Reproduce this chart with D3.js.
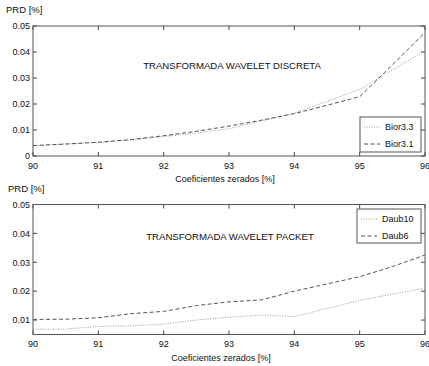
<!DOCTYPE html>
<html>
<head>
<meta charset="utf-8">
<script src="https://cdn.jsdelivr.net/npm/d3@7"></script>
<style>
  body { margin: 0; background: #fff; }
  svg { font-family: "Liberation Sans", Arial, sans-serif; }
</style>
</head>
<body>
<svg id="chart" width="429" height="366"></svg>
<script>
// Data
const coef = [90, 90.5, 91, 91.5, 92, 92.5, 93, 93.5, 94, 94.5, 95, 95.5, 96];
const bior33 = [0.0040, 0.0046, 0.0052, 0.0062, 0.0075, 0.0088, 0.0105, 0.0135, 0.0165, 0.0210, 0.0256, 0.0330, 0.0405];
const bior31 = [0.0040, 0.0046, 0.0053, 0.0063, 0.0078, 0.0095, 0.0115, 0.0138, 0.0163, 0.0195, 0.0228, 0.0350, 0.0475];
const daub10 = [0.0068, 0.0069, 0.0078, 0.0080, 0.0086, 0.0100, 0.0110, 0.0117, 0.0112, 0.0140, 0.0168, 0.0190, 0.0210];
const daub6 = [0.0102, 0.0103, 0.0108, 0.0122, 0.0130, 0.0150, 0.0163, 0.0170, 0.0200, 0.0225, 0.0250, 0.0285, 0.0325];
const xTicks = [90, 91, 92, 93, 94, 95, 96];
const yTicksTop = [0, 0.01, 0.02, 0.03, 0.04, 0.05];
const yTicksBottom = [0.01, 0.02, 0.03, 0.04, 0.05];

const svg = d3.select("#chart");

function drawPanel(opt) {
    const x = d3.scaleLinear().domain([90, 96]).range([33, 425]);
    const y = d3.scaleLinear().domain(opt.yDomain).range([opt.bottom, opt.top]);
    const g = svg.append("g");

    // inner ticks on all four sides
    const tl = 4;
    xTicks.forEach(t => {
        g.append("line").attr("x1", x(t)).attr("x2", x(t)).attr("y1", opt.bottom).attr("y2", opt.bottom - tl).attr("stroke", "#444");
        g.append("line").attr("x1", x(t)).attr("x2", x(t)).attr("y1", opt.top).attr("y2", opt.top + tl).attr("stroke", "#444");
        g.append("text").attr("x", x(t)).attr("y", opt.bottom + 12.5).attr("text-anchor", "middle")
            .style("font-size", "9px").attr("fill", "#111").text(t);
    });
    opt.yTicks.forEach(t => {
        g.append("line").attr("x1", 33).attr("x2", 33 + tl).attr("y1", y(t)).attr("y2", y(t)).attr("stroke", "#444");
        g.append("line").attr("x1", 425).attr("x2", 425 - tl).attr("y1", y(t)).attr("y2", y(t)).attr("stroke", "#444");
        g.append("text").attr("x", 30).attr("y", y(t) + 3.3).attr("text-anchor", "end")
            .style("font-size", "9px").attr("fill", "#111").text(t === 0 ? "0" : t.toFixed(2));
    });

    g.append("rect").attr("x", 33).attr("y", opt.top).attr("width", 392).attr("height", opt.bottom - opt.top)
        .attr("fill", "none").attr("stroke", "#555").attr("stroke-width", 1);

    const line = d3.line().x((d, i) => x(coef[i])).y(d => y(d));
    opt.series.forEach(s => {
        g.append("path").datum(s.values).attr("d", line).attr("fill", "none")
            .attr("stroke", s.color).attr("stroke-width", 1).attr("stroke-dasharray", s.dash);
    });

    g.append("text").attr("x", opt.prdX).attr("y", opt.top - 13).style("font-size", "9.5px").attr("fill", "#111").text("PRD [%]");
    g.append("text").attr("x", opt.titleX).attr("y", opt.bottom + 26).attr("text-anchor", "middle")
        .style("font-size", "9px").attr("fill", "#111").text("Coeficientes zerados [%]");
    g.append("text").attr("x", opt.noteX).attr("y", opt.noteY).attr("text-anchor", "middle")
        .style("font-size", "9.6px").attr("fill", "#111").text(opt.note);

    // legend
    const lg = opt.legend;
    g.append("rect").attr("x", lg.x).attr("y", lg.y).attr("width", lg.w).attr("height", lg.h)
        .attr("fill", "#fff").attr("stroke", "#555");
    opt.series.forEach((s, i) => {
        const yy = lg.y + 10 + i * 17;
        g.append("line").attr("x1", lg.x + 4).attr("x2", lg.x + 20).attr("y1", yy).attr("y2", yy)
            .attr("stroke", s.color).attr("stroke-dasharray", s.dash);
        g.append("text").attr("x", lg.x + 25).attr("y", yy + 3.3).style("font-size", "9px")
            .attr("fill", "#111").text(s.name);
    });
}

drawPanel({
    top: 26, bottom: 156, yDomain: [0, 0.05], yTicks: yTicksTop,
    note: "TRANSFORMADA WAVELET DISCRETA", noteX: 232, noteY: 69, prdX: 6, titleX: 225,
    legend: { x: 360, y: 117, w: 61, h: 35 },
    series: [
        { name: "Bior3.3", values: bior33, color: "#999", dash: "1,1.5" },
        { name: "Bior3.1", values: bior31, color: "#555", dash: "4,2.5" }
    ]
});

drawPanel({
    top: 204.5, bottom: 334.5, yDomain: [0.005, 0.05], yTicks: yTicksBottom,
    note: "TRANSFORMADA WAVELET PACKET", noteX: 230, noteY: 240, prdX: 8, titleX: 221,
    legend: { x: 357, y: 209, w: 64, h: 34 },
    series: [
        { name: "Daub10", values: daub10, color: "#999", dash: "1,1.5" },
        { name: "Daub6", values: daub6, color: "#555", dash: "4,2.5" }
    ]
});
</script>
</body>
</html>
